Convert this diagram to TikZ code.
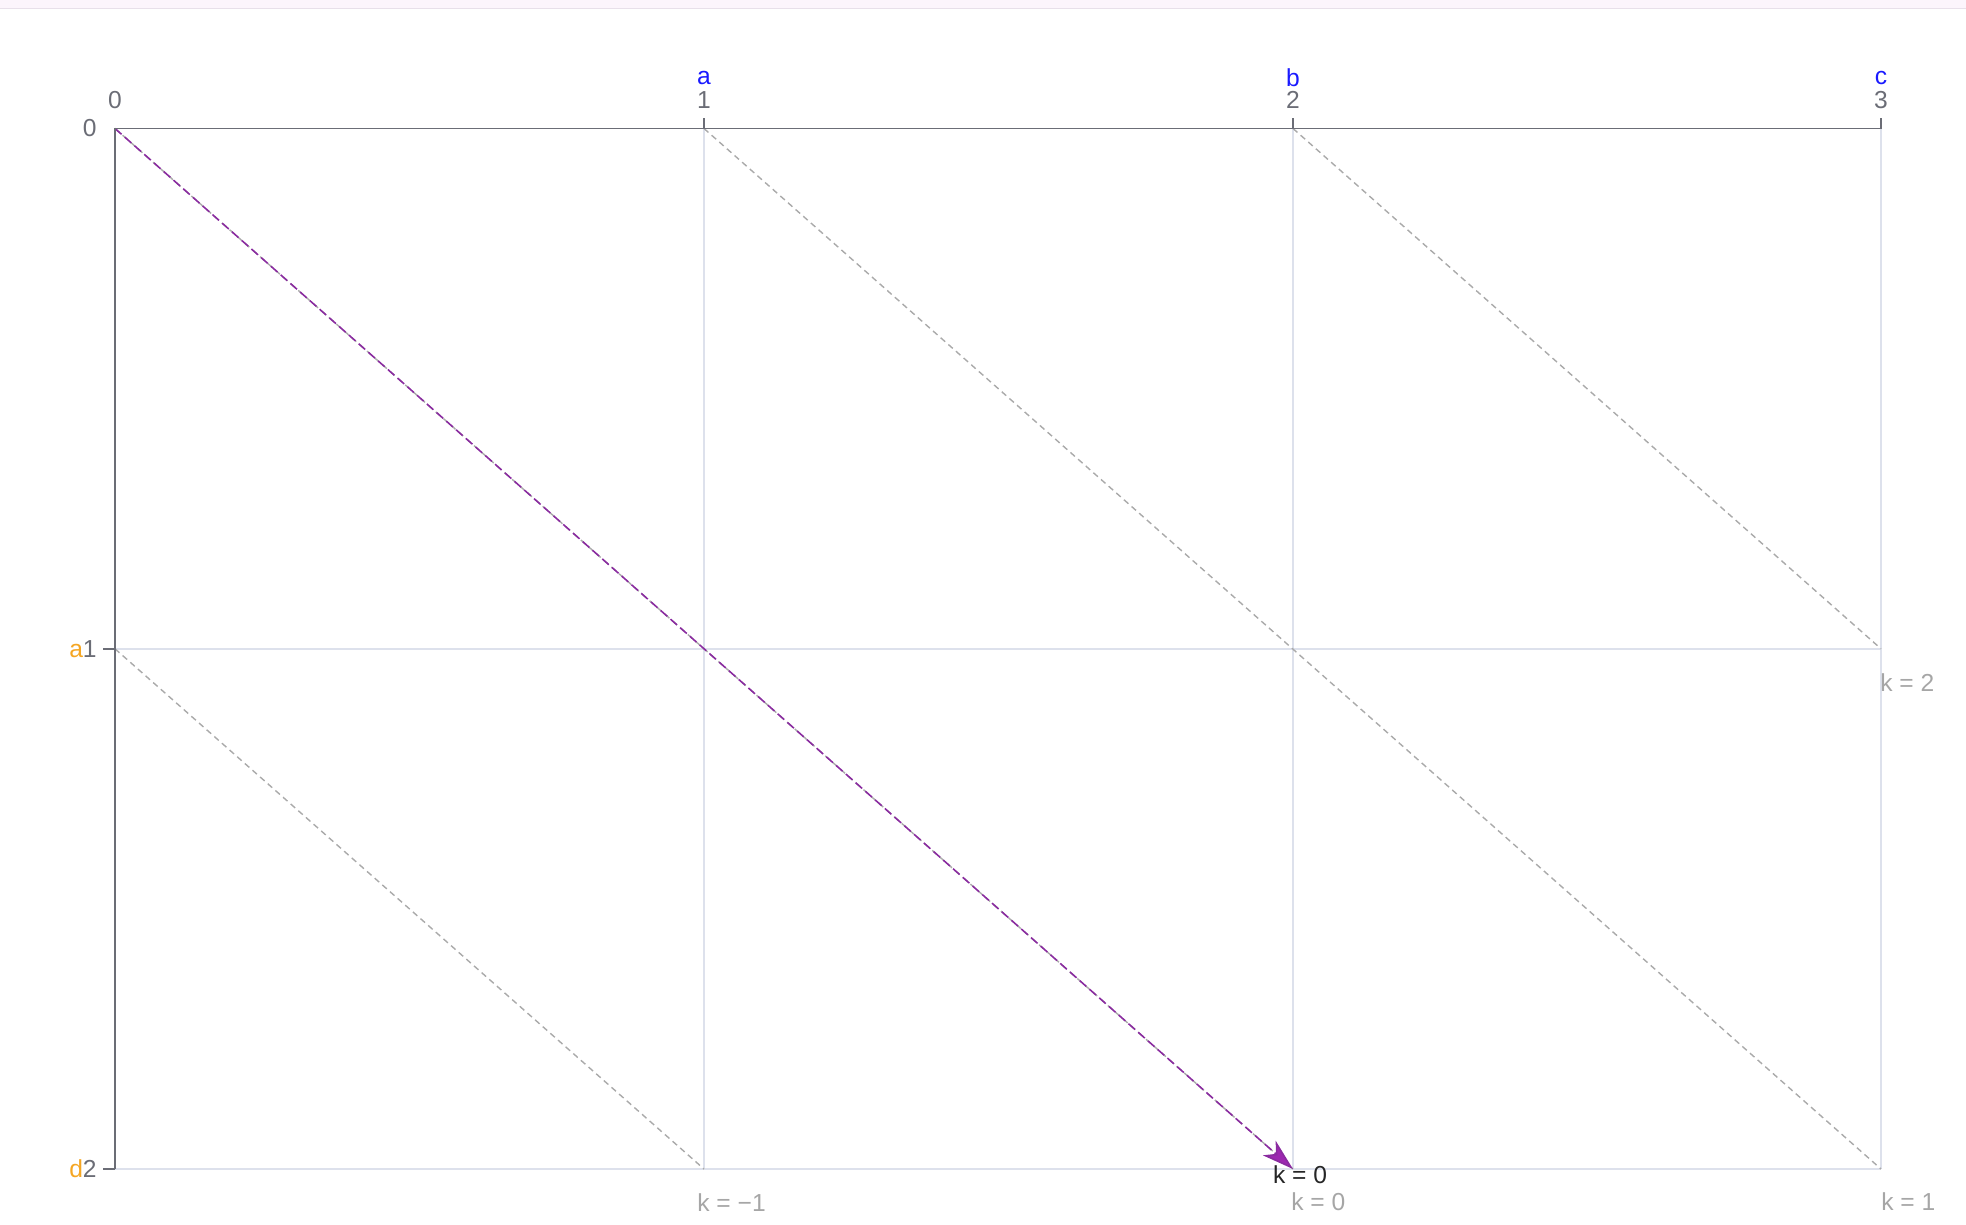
\documentclass[tikz,border=0pt]{standalone}
\usepackage{fontspec}
\setmainfont{Liberation Sans}
\usetikzlibrary{arrows.meta}
\definecolor{axisgray}{HTML}{6B6D76}
\definecolor{gridc}{HTML}{DDE1EC}
\definecolor{dashgray}{HTML}{AAAAAA}
\definecolor{klabel}{HTML}{A6A6A6}
\definecolor{pathpurple}{HTML}{8A2BA0}
\definecolor{headpurple}{HTML}{9C27B0}
\definecolor{lblblue}{HTML}{1A1AFF}
\definecolor{lblorange}{HTML}{F5A623}
\definecolor{bandc}{HTML}{FCF5FC}
\definecolor{bandline}{HTML}{E8E0EA}
\begin{document}
\begin{tikzpicture}[x=0.02cm,y=-0.02cm,
  axisline/.style={draw=axisgray,line width=1.1pt},
  gridline/.style={draw=gridc,line width=0.8pt},
  diag/.style={draw=dashgray,line width=0.8pt,dash pattern=on 3.4pt off 2.4pt},
  tickl/.style={text=axisgray,font=\fontsize{14}{16}\selectfont,inner sep=0pt},
  namel/.style={text=lblblue,font=\fontsize{14}{16}\selectfont,inner sep=0pt},
  kl/.style={text=klabel,font=\fontsize{14}{16}\selectfont,inner sep=0pt,anchor=west}]
\useasboundingbox (0,0) rectangle (1966,1224);
\fill[bandc] (0,0) rectangle (1966,8);
\draw[bandline,line width=0.8pt] (0,8.5) -- (1966,8.5);
% grid points
\coordinate (p00) at (115,128.5);
\coordinate (p10) at (704,128.5);
\coordinate (p20) at (1293,128.5);
\coordinate (p30) at (1881,128.5);
\coordinate (p01) at (115,648.8);
\coordinate (p11) at (704,648.8);
\coordinate (p21) at (1293,648.8);
\coordinate (p31) at (1881,648.8);
\coordinate (p02) at (115,1169);
\coordinate (p12) at (704,1169);
\coordinate (p22) at (1293,1169);
\coordinate (p32) at (1881,1169);
% grid
\draw[gridline] (p01) -- (p31);
\draw[gridline] (p02) -- (p32);
\draw[gridline] (p10) -- (p12);
\draw[gridline] (p20) -- (p22);
\draw[gridline] (p30) -- (p32);
% diagonals
\draw[diag] (p01) -- (p12);
\draw[diag] (p10) -- (p32);
\draw[diag] (p20) -- (p31);
\draw[diag] (p00) -- (p22);
\draw[draw=pathpurple,line width=0.9pt,dash pattern=on 5pt off 2.4pt,
  -{Stealth[length=18pt,width=11pt,inset=5pt,fill=headpurple]}] (p00) -- (p22);
% axes
\draw[axisline] (p30) -- (p00) -- (p02);
\draw[axisline] (p10) -- ++(0,-11);
\draw[axisline] (p20) -- ++(0,-11);
\draw[axisline] (p30) -- ++(0,-11);
\draw[axisline] (p01) -- ++(-12,0);
\draw[axisline] (p02) -- ++(-12,0);
% top labels
\node[tickl] (tx0) at (115,100) {0};
\node[tickl] (tx1) at (704,100) {1};
\node[tickl] (tx2) at (1293,100) {2};
\node[tickl] (tx3) at (1881,100) {3};
\node[namel] (na) at (704,78) {a};
\node[namel] (nb) at (1293,78) {b};
\node[namel] (nc) at (1881,78) {c};
% left labels
\node[tickl,anchor=east] (ty0) at (97,128.5) {0};
\node[tickl,anchor=east] (ty1) at (97,648.8) {\textcolor{lblorange}{a}1};
\node[tickl,anchor=east] (ty2) at (97,1169) {\textcolor{lblorange}{d}2};
% k labels
\node[kl] (km1) at (697,1203) {k = −1};
\node[kl] (k0) at (1291,1202) {k = 0};
\node[kl] (k1) at (1881,1202) {k = 1};
\node[kl] (k2) at (1880,683) {k = 2};
\node[text=black!85,font=\fontsize{14}{16}\selectfont,inner sep=0pt] (kpath) at (1300,1175) {k = 0};
\end{tikzpicture}
\end{document}
